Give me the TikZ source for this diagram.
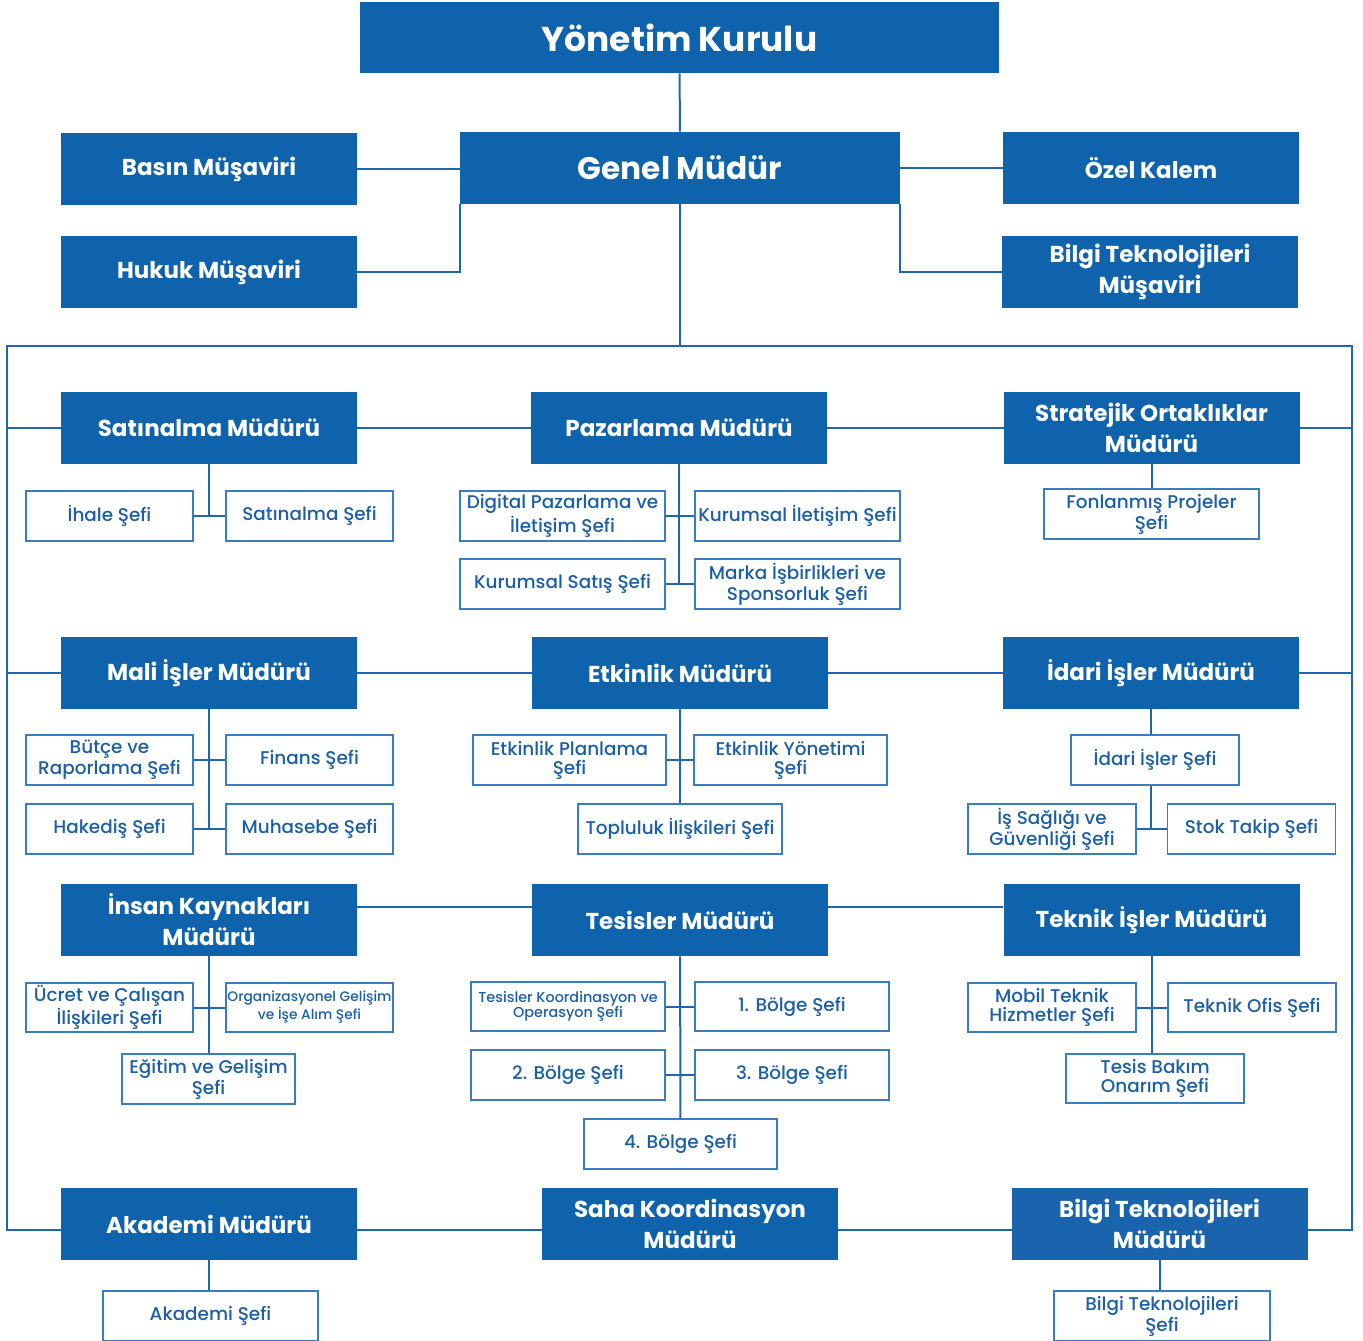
\documentclass[tikz,border=0pt]{standalone}
\usepackage{fontspec}
\setmainfont{Poppins}
\newfontfamily\subfont{Poppins Medium}
\usetikzlibrary{backgrounds}

\definecolor{orgblue}{HTML}{0F62AC}
\definecolor{itblue}{HTML}{1A64AE}
\definecolor{linkblue}{HTML}{1E67B0}
\definecolor{chiefline}{HTML}{3A7CC0}
\definecolor{chieftext}{HTML}{1B5FA9}

\begin{document}
\begin{tikzpicture}[x = 0.5pt, y = -0.5pt,
board/.style = {fill = orgblue, text = white, inner sep = 0pt, minimum height = 36pt, font = \bfseries\fontsize{17.2}{20}\selectfont},
head/.style = {fill = orgblue, text = white, inner sep = 0pt, minimum width = 148pt, minimum height = 36pt, align = center, font = \bfseries\fontsize{11.5}{15.5}\selectfont},
chief/.style = {draw = chiefline, line width = 0.7pt, fill = white, text = chieftext, inner sep = 0pt, minimum width = 83.5pt, minimum height = 25pt, align = center, font = \subfont\fontsize{9.2}{9.5}\selectfont},
tiny/.style = {font = \subfont\fontsize{6.9}{7.5}\selectfont},
wd/.style = {minimum width = #1*0.5pt},
link/.style = {draw = linkblue, line width = 1pt},
]
\useasboundingbox (0, 0) rectangle (1363, 1340);
\clip (0, 0) rectangle (1363, 1340);

\node[board, wd = 639, minimum height = 35.5pt] (yk) at (679.5, 37.5) {Yönetim Kurulu};
\node[board, wd = 440, font = \bfseries\fontsize{15.6}{20}\selectfont] (gm) at (680, 168) {Genel Müdür};
\node[head] (basin) at (209, 169) {Basın Müşaviri};
\node[head] (hukuk) at (209, 272) {Hukuk Müşaviri};
\node[head] (ozel) at (1151, 168) {Özel Kalem};
\node[head] (btmus) at (1150, 272) {Bilgi Teknolojileri\\Müşaviri};

% row 1
\node[head] (sat) at (209, 428) {Satınalma Müdürü};
\node[head] (paz) at (679, 428) {Pazarlama Müdürü};
\node[head] (st) at (1151.5, 428) {Stratejik Ortaklıklar\\Müdürü};
\node[chief] (ihale) at (109.5, 516) {İhale Şefi};
\node[chief] (satsef) at (309.5, 516) {Satınalma Şefi};
\node[chief, wd = 205] (digital) at (562.5, 516) {Digital Pazarlama ve\\İletişim Şefi};
\node[chief, wd = 205] (kuril) at (797.5, 516) {Kurumsal İletişim Şefi};
\node[chief, wd = 205] (kursat) at (562.5, 584) {Kurumsal Satış Şefi};
\node[chief, wd = 205] (marka) at (797.5, 584) {Marka İşbirlikleri ve\\Sponsorluk Şefi};
\node[chief, wd = 215] (fon) at (1151.5, 514) {Fonlanmış Projeler\\Şefi};

% row 2
\node[head] (mali) at (209, 673) {Mali İşler Müdürü};
\node[head] (etk) at (680, 673) {Etkinlik Müdürü};
\node[head] (idari) at (1151, 673) {İdari İşler Müdürü};
\node[chief] (butce) at (109.5, 760) {Bütçe ve\\Raporlama Şefi};
\node[chief] (finans) at (309.5, 760) {Finans Şefi};
\node[chief] (hakedis) at (109.5, 829) {Hakediş Şefi};
\node[chief] (muhasebe) at (309.5, 829) {Muhasebe Şefi};
\node[chief, wd = 193] (plan) at (569.5, 760) {Etkinlik Planlama\\Şefi};
\node[chief, wd = 193] (yon) at (790.5, 760) {Etkinlik Yönetimi\\Şefi};
\node[chief, wd = 204] (toplu) at (680, 829) {Topluluk İlişkileri Şefi};
\node[chief, wd = 168] (idsef) at (1155, 760) {İdari İşler Şefi};
\node[chief, wd = 168] (isg) at (1052, 829) {İş Sağlığı ve\\Güvenliği Şefi};
\node[chief, wd = 168] (stok) at (1251.5, 829) {Stok Takip Şefi};

% row 3
\node[head] (ik) at (209, 920) {İnsan Kaynakları\\Müdürü};
\node[head] (tes) at (680, 920) {Tesisler Müdürü};
\node[head] (tek) at (1151.5, 920) {Teknik İşler Müdürü};
\node[chief, minimum height = 24.5pt] (ucret) at (109.5, 1007.5) {Ücret ve Çalışan\\İlişkileri Şefi};
\node[chief, tiny, minimum height = 24.5pt] (org) at (309.5, 1007.5) {Organizasyonel Gelişim\\ve İşe Alım Şefi};
\node[chief, wd = 173] (egitim) at (208.5, 1079) {Eğitim ve Gelişim\\Şefi};
\node[chief, tiny, font = \subfont\fontsize{7.2}{7.5}\selectfont, wd = 194, minimum height = 24.5pt] (tko) at (568, 1006.5) {Tesisler Koordinasyon ve\\Operasyon Şefi};
\node[chief, wd = 194, minimum height = 24.5pt] (b1) at (792, 1006.5) {1. Bölge Şefi};
\node[chief, wd = 194] (b2) at (568, 1075) {2. Bölge Şefi};
\node[chief, wd = 194] (b3) at (792, 1075) {3. Bölge Şefi};
\node[chief, wd = 193] (b4) at (680.5, 1144) {4. Bölge Şefi};
\node[chief, wd = 168, minimum height = 24.5pt] (mobil) at (1052, 1007.5) {Mobil Teknik\\Hizmetler Şefi};
\node[chief, wd = 168, minimum height = 24.5pt] (tofis) at (1252, 1007.5) {Teknik Ofis Şefi};
\node[chief, wd = 178, minimum height = 24.5pt] (bakim) at (1155, 1078.5) {Tesis Bakım\\Onarım Şefi};

% row 4
\node[head] (ak) at (209, 1224) {Akademi Müdürü};
\node[head] (saha) at (690, 1224) {Saha Koordinasyon\\Müdürü};
\node[head, fill = itblue] (bt) at (1159.5, 1224) {Bilgi Teknolojileri\\Müdürü};
\node[chief, wd = 215] (aksef) at (210.5, 1316) {Akademi Şefi};
\node[chief, wd = 216] (btsef) at (1162, 1316) {Bilgi Teknolojileri\\Şefi};

\begin{scope}[on background layer]
\coordinate (fl) at (7, 346);
\coordinate (br) at (1352, 1230);
\draw[link] (yk) -- (gm);
\draw[link] (basin) -- (basin -| gm.west);
\draw[link] (hukuk.east) -| (gm.south west);
\draw[link] (gm) -- (ozel);
\draw[link] (gm.south east) |- (btmus.west);
\draw[link] (gm.south) -- (gm.south |- fl);
\draw[link] (fl) rectangle (br);
\draw[link] (fl |- sat) -- (br |- st);
\draw[link] (fl |- mali) -- (br |- idari);
\draw[link] ([yshift = -11.5pt]ik.north east) -- ([yshift = -11.5pt]tek.north west);
% chiefs
\draw[link] (sat.south) -- (sat.south |- ihale.east);
\draw[link] (ihale) -- (satsef);
\draw[link] (paz.south) -- (paz.south |- kursat.east);
\draw[link] (digital) -- (kuril);
\draw[link] (kursat) -- (marka);
\draw[link] (st) -- (fon);
\draw[link] (mali.south) -- (mali.south |- hakedis.east);
\draw[link] (butce) -- (finans);
\draw[link] (hakedis) -- (muhasebe);
\draw[link] (etk) -- (toplu);
\draw[link] (plan) -- (yon);
\draw[link] (idari.south) -- (idari.south |- isg.east);
\draw[link] (isg) -- (stok);
\draw[link] (ik.south) -- (ik.south |- egitim.north);
\draw[link] (ucret) -- (org);
\draw[link] (tes) -- (b4);
\draw[link] (tko) -- (b1);
\draw[link] (b2) -- (b3);
\draw[link] (tek.south) -- (tek.south |- bakim.north);
\draw[link] (mobil) -- (tofis);
\draw[link] (ak.south) -- (ak.south |- aksef.north);
\draw[link] (bt.south) -- (bt.south |- btsef.north);
\end{scope}
\end{tikzpicture}
\end{document}
